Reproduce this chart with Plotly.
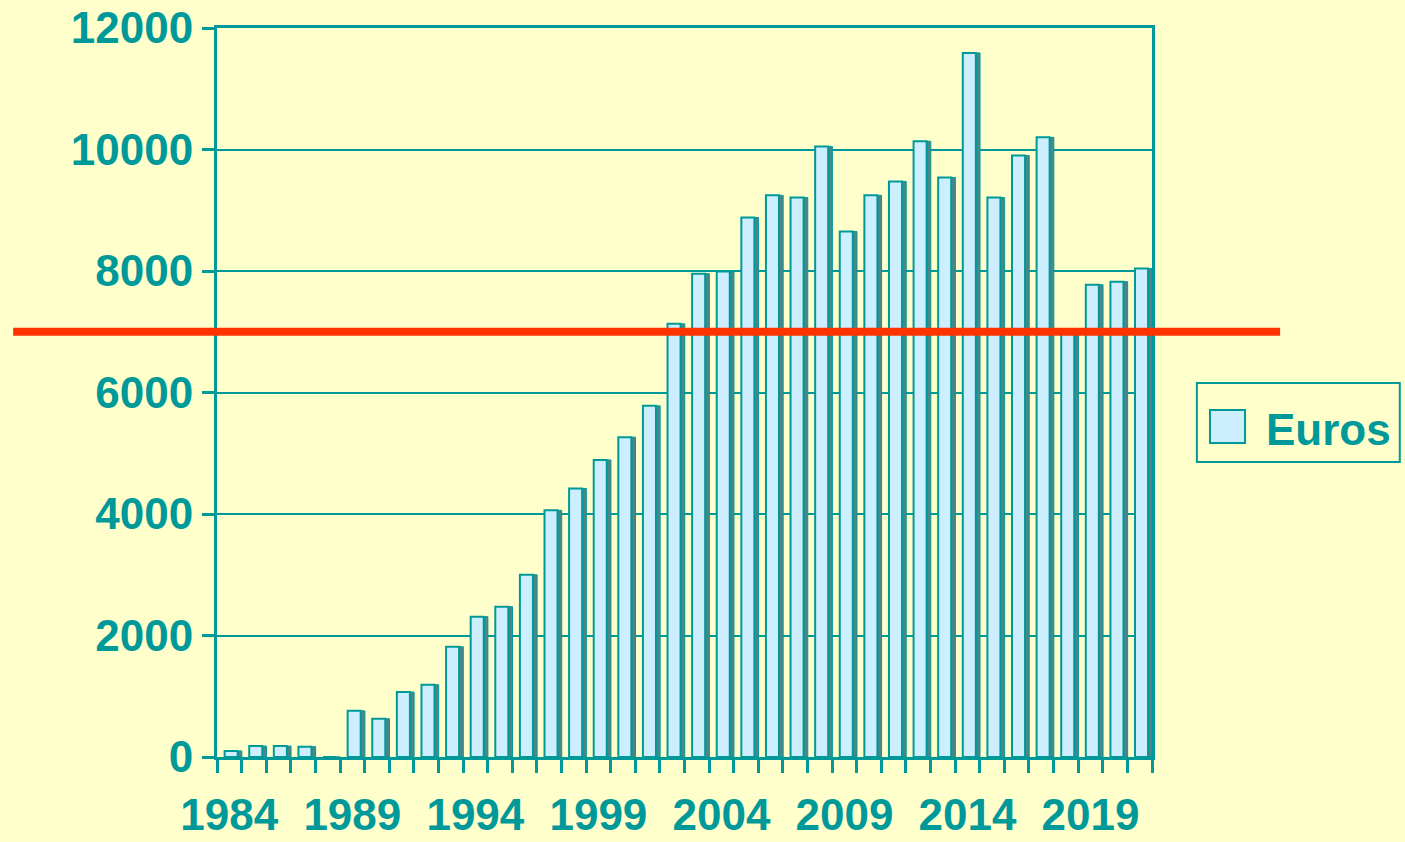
import plotly.graph_objects as go

years = list(range(1984, 2022))
euros = [100, 180, 180, 170, 0, 760, 630, 1070, 1190, 1815, 2310, 2475, 3000,
         4060, 4420, 4890, 5265, 5780, 7130, 7955, 7990, 8880, 9245, 9210,
         10050, 8650, 9245, 9475, 10135, 9540, 11590, 9210, 9900, 10200,
         7030, 7775, 7825, 8040]
tick_years = [1984, 1989, 1994, 1999, 2004, 2009, 2014, 2019]
y_ticks = [0, 2000, 4000, 6000, 8000, 10000, 12000]
reference_level = 7000
series_name = "Euros"

TEAL = "#009999"
BG = "#FFFFCC"
FONT = "Liberation Sans, Arial, sans-serif"
FS = 44

fig = go.Figure()
# dark side of the 3D bars
fig.add_trace(go.Bar(
    x=years, y=euros, width=0.17, offset=0.34,
    marker=dict(color="#4F8585", line=dict(color=TEAL, width=1)),
    showlegend=False, hoverinfo="skip"))
# front face
fig.add_trace(go.Bar(
    x=years, y=euros, width=0.53, offset=-0.19, name=series_name,
    marker=dict(color="#CCEEFF", line=dict(color=TEAL, width=2)),
    showlegend=False))

fig.update_layout(
    width=1405, height=842,
    paper_bgcolor=BG, plot_bgcolor=BG,
    margin=dict(l=217, r=253, t=28, b=85),
    barmode="overlay",
    font=dict(family=FONT, color=TEAL, size=FS, weight="bold"),
    xaxis=dict(
        range=[1983.5, 2021.5], automargin=False,
        tickmode="array", tickvals=tick_years, ticktext=[str(t) for t in tick_years],
        ticks="", ticklabelstandoff=17,
        showgrid=False, zeroline=False,
        showline=True, linecolor=TEAL, linewidth=3, mirror=True,
        tickfont=dict(family=FONT, size=FS, color=TEAL, weight="bold"),
        minor=dict(tick0=1983.5, dtick=1, ticks="outside", ticklen=13,
                   tickwidth=3, tickcolor=TEAL, showgrid=False),
    ),
    yaxis=dict(
        range=[0, 12000], automargin=False,
        tickmode="array", tickvals=y_ticks, ticktext=[str(v) for v in y_ticks],
        ticks="outside", ticklen=12, tickwidth=3, tickcolor=TEAL,
        showgrid=True, gridcolor=TEAL, gridwidth=2,
        zeroline=False,
        showline=True, linecolor=TEAL, linewidth=3, mirror=True,
        tickfont=dict(family=FONT, size=FS, color=TEAL, weight="bold"),
    ),
)

# reference line
fig.add_shape(type="line", xref="paper", yref="y",
              x0=-0.218, x1=1.137, y0=reference_level, y1=reference_level,
              line=dict(color="#FF3300", width=8), layer="above")

# legend box drawn manually
fig.add_shape(type="rect", xref="paper", yref="paper",
              x0=1.048, x1=1.265, y0=0.4047, y1=0.513,
              line=dict(color=TEAL, width=2), fillcolor="rgba(0,0,0,0)")
fig.add_shape(type="rect", xref="paper", yref="paper",
              x0=1.062, x1=1.0995, y0=0.4307, y1=0.476,
              line=dict(color=TEAL, width=2), fillcolor="#CCEEFF")
fig.add_annotation(xref="paper", yref="paper", x=1.12, y=0.4486,
                   text=series_name, showarrow=False, xanchor="left", yanchor="middle",
                   font=dict(family=FONT, size=FS, color=TEAL, weight="bold"))

fig.write_html("out.html", config={"displayModeBar": False},
               post_script="document.body.style.margin='0';")
